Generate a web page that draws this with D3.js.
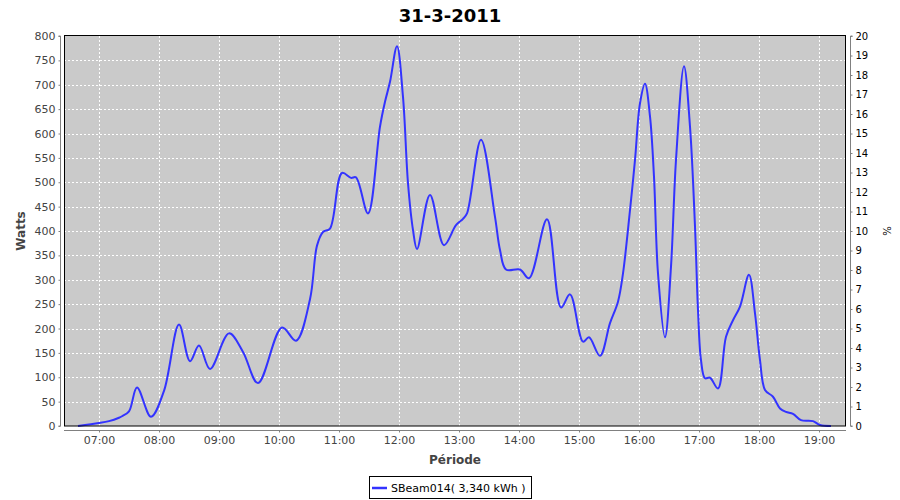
<!DOCTYPE html>
<html>
<head>
<meta charset="utf-8">
<script src="https://cdn.jsdelivr.net/npm/d3@7"></script>
<style>
  html, body { margin: 0; padding: 0; background: #ffffff; }
  svg { display: block; font-family: "DejaVu Sans", sans-serif; }
</style>
</head>
<body>
<svg id="chart" width="900" height="500"></svg>
<script>
// ---- data ----
const chartTitle = "31-3-2011";
const seriesName = "SBeam014( 3,340 kWh )";
const times = ["06:39","07:00","07:10","07:20","07:23","07:30","07:38","07:52","08:05","08:20",
  "08:31","08:40","08:51","09:10","09:24","09:39","10:03","10:17","10:31","10:38",
  "10:44","10:51","11:03","11:12","11:17","11:29","11:41","11:46","11:51","11:58",
  "12:04","12:09","12:14","12:18","12:31","12:45","12:57","13:04","13:08","13:22",
  "13:36","13:41","13:47","14:01","14:10","14:28","14:42","14:51","15:04","15:10",
  "15:21","15:31","15:39","15:44","15:51","15:56","16:01","16:06","16:11","16:15",
  "16:19","16:26","16:32","16:37","16:45","16:51","16:56","16:59","17:02","17:06",
  "17:11","17:19","17:27","17:34","17:41","17:50","17:56","18:01","18:06","18:14",
  "18:21","18:27","18:34","18:42","18:54","19:01","19:12"];
const watts = [0,6,10,17,20,30,79,19,72,208,
  133,165,117,190,152,88,202,175,260,370,
  398,405,519,509,510,436,614,665,706,779,
  675,498,402,363,474,371,412,425,436,587,
  429,361,321,321,303,424,243,270,173,182,
  144,211,255,313,443,546,662,702,635,511,
  313,182,327,546,738,614,409,238,135,98,
  99,77,183,217,245,310,231,135,74,60,
  36,29,25,12,10,2,0];
const leftTicks = [0,50,100,150,200,250,300,350,400,450,500,550,600,650,700,750,800];
const rightTicks = [0,1,2,3,4,5,6,7,8,9,10,11,12,13,14,15,16,17,18,19,20];
const hourTicks = ["07:00","08:00","09:00","10:00","11:00","12:00","13:00","14:00","15:00","16:00","17:00","18:00","19:00"];
const xDomain = ["06:25","19:27"];

// ---- layout ----
const P = { left: 64, top: 36, right: 846, bottom: 426 };
const parse = s => { const [h, m] = s.split(":").map(Number); return new Date(2011, 2, 31, h, m); };
const data = times.map((t, i) => ({ t: parse(t), v: watts[i] }));

const svg = d3.select("#chart");
const x = d3.scaleTime().domain(xDomain.map(parse)).range([P.left, P.right]);
const y = d3.scaleLinear().domain([0, 800]).range([P.bottom, P.top]);
const y2 = d3.scaleLinear().domain([0, 20]).range([P.bottom, P.top]);

// title
svg.append("text").attr("x", 450).attr("y", 22).attr("text-anchor", "middle")
  .attr("font-size", 18).attr("font-weight", "bold").attr("fill", "#000").text(chartTitle);

// plot background
svg.append("rect").attr("x", P.left).attr("y", P.top)
  .attr("width", P.right - P.left).attr("height", P.bottom - P.top).attr("fill", "#cacaca");

// gridlines
const grid = svg.append("g").attr("stroke", "#ffffff").attr("stroke-width", 1).attr("stroke-dasharray", "2,2");
grid.selectAll("line.h").data(leftTicks.slice(1, -1)).join("line")
  .attr("x1", P.left).attr("x2", P.right)
  .attr("y1", d => Math.round(y(d)) + 0.5).attr("y2", d => Math.round(y(d)) + 0.5);
grid.selectAll("line.v").data(hourTicks).join("line")
  .attr("y1", P.top).attr("y2", P.bottom)
  .attr("x1", d => Math.round(x(parse(d))) + 0.5).attr("x2", d => Math.round(x(parse(d))) + 0.5);

// series line
const line = d3.line().x(d => x(d.t)).y(d => y(d.v)).curve(d3.curveCatmullRom.alpha(0.5));
svg.append("path").datum(data).attr("d", line)
  .attr("fill", "none").attr("stroke", "#3333ff").attr("stroke-width", 2).attr("stroke-linejoin", "round");

// plot frame
svg.append("rect").attr("x", P.left + 0.5).attr("y", P.top - 0.5)
  .attr("width", P.right - P.left - 1).attr("height", P.bottom - P.top + 0.5)
  .attr("fill", "none").attr("stroke", "#000").attr("stroke-width", 1);

// left axis
const leftAxis = d3.axisLeft(y).tickValues(leftTicks).tickSize(2).tickPadding(3);
const gL = svg.append("g").attr("transform", "translate(60.5,0)").call(leftAxis);
gL.select(".domain").attr("stroke", "#808080").attr("d", `M-2,${P.top}H0V${P.bottom}H-2`);
gL.selectAll(".tick line").attr("stroke", "#808080");
gL.selectAll(".tick text").attr("font-size", 11).attr("fill", "#444").attr("font-family", "DejaVu Sans");

// right axis
const rightAxis = d3.axisRight(y2).tickValues(rightTicks).tickSize(2).tickPadding(3);
const gR = svg.append("g").attr("transform", "translate(850.5,0)").call(rightAxis);
gR.select(".domain").attr("stroke", "#808080").attr("d", `M2,${P.top}H0V${P.bottom}H2`);
gR.selectAll(".tick line").attr("stroke", "#808080");
gR.selectAll(".tick text").attr("font-size", 10).attr("fill", "#000").attr("font-family", "DejaVu Sans");

// bottom axis
const bottomAxis = d3.axisBottom(x).tickValues(hourTicks.map(parse)).tickFormat(d3.timeFormat("%H:%M")).tickSize(2).tickPadding(4);
const gB = svg.append("g").attr("transform", "translate(0,430.5)").call(bottomAxis);
gB.select(".domain").attr("stroke", "#808080").attr("d", `M${P.left},0H${P.right}`);
gB.selectAll(".tick line").attr("stroke", "#808080");
gB.selectAll(".tick text").attr("font-size", 11).attr("fill", "#444").attr("font-family", "DejaVu Sans");

// axis titles
svg.append("text").attr("transform", `translate(25,${(P.top + P.bottom) / 2}) rotate(-90)`)
  .attr("text-anchor", "middle").attr("font-size", 12).attr("font-weight", "bold").attr("fill", "#444").text("Watts");
svg.append("text").attr("x", (P.left + P.right) / 2).attr("y", 464).attr("text-anchor", "middle")
  .attr("font-size", 12).attr("font-weight", "bold").attr("fill", "#444").text("Période");
svg.append("text").attr("transform", `translate(883,${(P.top + P.bottom) / 2}) rotate(90)`)
  .attr("text-anchor", "middle").attr("font-size", 10).attr("fill", "#000").text("%");

// legend
const lg = svg.append("g");
lg.append("rect").attr("x", 369.5).attr("y", 476.5).attr("width", 162).attr("height", 22)
  .attr("fill", "#fff").attr("stroke", "#000");
lg.append("line").attr("x1", 372).attr("x2", 387).attr("y1", 488).attr("y2", 488)
  .attr("stroke", "#3333ff").attr("stroke-width", 2.5);
lg.append("text").attr("x", 391).attr("y", 492).attr("font-size", 11).attr("fill", "#000").text(seriesName);
</script>
</body>
</html>
